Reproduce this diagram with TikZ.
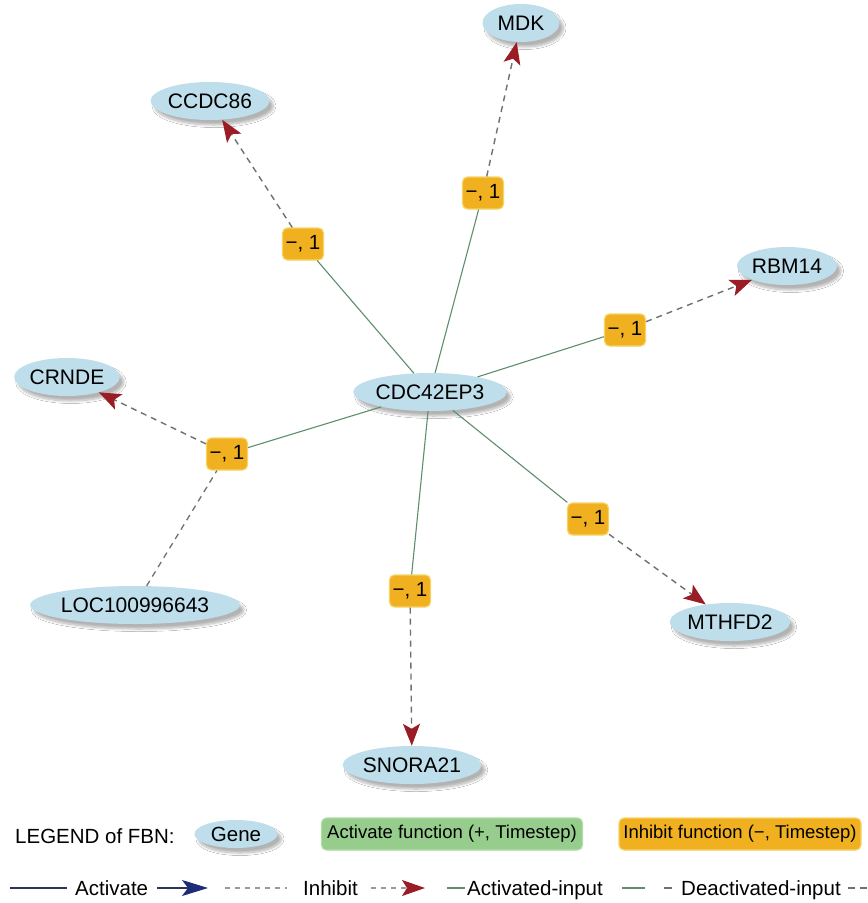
\documentclass[tikz,border=0pt]{standalone}
\usepackage{fontspec}
\setmainfont{Liberation Sans}
\usetikzlibrary{shapes.geometric,arrows.meta,shadows.blur}

\definecolor{genefill}{HTML}{BDDEEA}
\definecolor{inhfill}{HTML}{F0B020}
\definecolor{inhdraw}{HTML}{F6D365}
\definecolor{actfill}{HTML}{96CC8C}
\definecolor{actdraw}{HTML}{B0DCA6}
\definecolor{edgegreen}{HTML}{5F8E6C}
\definecolor{edgegrey}{HTML}{707070}
\definecolor{leggrey}{HTML}{9A9A9A}
\definecolor{arrred}{HTML}{9A1C24}
\definecolor{arrblue}{HTML}{1E2C78}
\definecolor{navyline}{HTML}{2B3656}

\tikzset{
 gene/.style={ellipse, fill=genefill, inner sep=0pt, minimum height=38pt, minimum width=#1,
   font=\fontsize{21}{24}\selectfont,
   blur shadow={shadow xshift=4pt, shadow yshift=-5pt, shadow opacity=30, shadow blur radius=2.5pt, shadow blur steps=8}},
 fn/.style={rectangle, rounded corners=5pt, fill=inhfill, draw=inhdraw, line width=1.2pt,
   minimum width=41pt, minimum height=32pt, inner sep=0pt, font=\fontsize{20.5}{24}\selectfont},
 actedge/.style={draw=edgegreen, line width=1.1pt},
 inhedge/.style={draw=edgegrey, line width=1.4pt, dash pattern=on 6pt off 5pt,
   -{Stealth[length=22pt,width=17pt,inset=5pt,fill=arrred,color=arrred]}},
 deactedge/.style={draw=edgegrey, line width=1.3pt, dash pattern=on 6pt off 5pt},
 legtext/.style={inner sep=0pt, anchor=base west, font=\fontsize{20.5}{24}\selectfont},
 legbox/.style={rectangle, rounded corners=5pt, minimum height=32pt, inner sep=0pt,
   font=\fontsize{18.5}{22}\selectfont},
}

\begin{document}
\begin{tikzpicture}[x=1pt,y=-1pt]
\fill[white] (0,0) rectangle (868,903);
\useasboundingbox (0,0) rectangle (868,903);

% genes
\node[gene=131pt] (cdc) at (430,392) {CDC42EP3};
\node[gene=77pt] (mdk) at (521,23) {MDK};
\node[gene=113pt] (ccdc) at (210,101) {CCDC86};
\node[gene=100pt] (rbm) at (787,266) {RBM14};
\node[gene=101pt] (crnde) at (67,377) {CRNDE};
\node[gene=170pt] (loc) at (135,605) {LOC100996643};
\node[gene=114pt] (mth) at (730,622) {MTHFD2};
\node[gene=127pt] (sno) at (412,765) {SNORA21};

% functions
\node[fn] (fmdk) at (483,193) {−, 1};
\node[fn] (fccdc) at (303,244) {−, 1};
\node[fn] (frbm) at (625,330) {−, 1};
\node[fn] (fcrn) at (227,454) {−, 1};
\node[fn] (fmth) at (588,519) {−, 1};
\node[fn] (fsno) at (410,591) {−, 1};

% activated inputs
\draw[actedge] (cdc) -- (fmdk);
\draw[actedge] (cdc) -- (fccdc);
\draw[actedge] (cdc) -- (frbm);
\draw[actedge] (cdc) -- (fcrn);
\draw[actedge] (cdc) -- (fmth);
\draw[actedge] (cdc) -- (fsno);
% deactivated input
\draw[deactedge] (loc) -- (fcrn);
% inhibit outputs
\draw[inhedge] (fmdk) -- (mdk);
\draw[inhedge] (fccdc) -- (ccdc);
\draw[inhedge] (frbm) -- (rbm);
\draw[inhedge] (fcrn) -- (crnde);
\draw[inhedge] (fmth) -- (mth);
\draw[inhedge] (fsno) -- (sno);

% legend row 1
\node[legtext] (legtitle) at (15,843) {LEGEND of FBN:};
\node[gene=83pt, minimum height=28pt, font=\fontsize{20.5}{24}\selectfont] (leggene) at (236,834) {Gene};
\node[legbox, fill=actfill, draw=actdraw, line width=1.2pt, minimum width=261pt] (legact) at (452,834) {Activate function (+, Timestep)};
\node[legbox, fill=inhfill, draw=inhdraw, line width=1.2pt, minimum width=242pt] (leginh) at (740,834) {Inhibit function (−, Timestep)};

% legend row 2
\coordinate (a0) at (10,888); \coordinate (a1) at (67,888);
\node[legtext] (tact) at (75,895) {Activate};
\coordinate (a2) at (157,888); \coordinate (a3) at (208,888);
\draw[navyline, line width=1.2pt] (a0) -- (a1);
\draw[navyline, line width=1.2pt, -{Stealth[length=26pt,width=16pt,inset=6pt,fill=arrblue,color=arrblue]}] (a2) -- (a3);

\coordinate (i0) at (225,888); \coordinate (i1) at (287,888);
\node[legtext] (tinh) at (303,895) {Inhibit};
\coordinate (i2) at (371,888); \coordinate (i3) at (425,888);
\draw[leggrey, line width=1.3pt, dash pattern=on 5pt off 5pt] (i0) -- (i1);
\draw[leggrey, line width=1.3pt, dash pattern=on 5pt off 5pt, -{Stealth[length=23pt,width=16pt,inset=5pt,fill=arrred,color=arrred]}] (i2) -- (i3);

\coordinate (g0) at (447,888); \coordinate (g1) at (465,888);
\node[legtext] (tactin) at (467,895) {Activated-input};
\coordinate (g2) at (622,888); \coordinate (g3) at (645,888);
\draw[edgegreen, line width=1.2pt] (g0) -- (g1);
\draw[edgegreen, line width=1.2pt] (g2) -- (g3);

\coordinate (d0) at (664,888); \coordinate (d1) at (672,888);
\node[legtext] (tdeact) at (681,895) {Deactivated-input};
\coordinate (d2) at (848,888); \coordinate (d3) at (867,888);
\draw[edgegrey, line width=1.2pt] (d0) -- (d1);
\draw[edgegrey, line width=1.2pt, dash pattern=on 7pt off 5pt] (d2) -- (d3);
\end{tikzpicture}
\end{document}
